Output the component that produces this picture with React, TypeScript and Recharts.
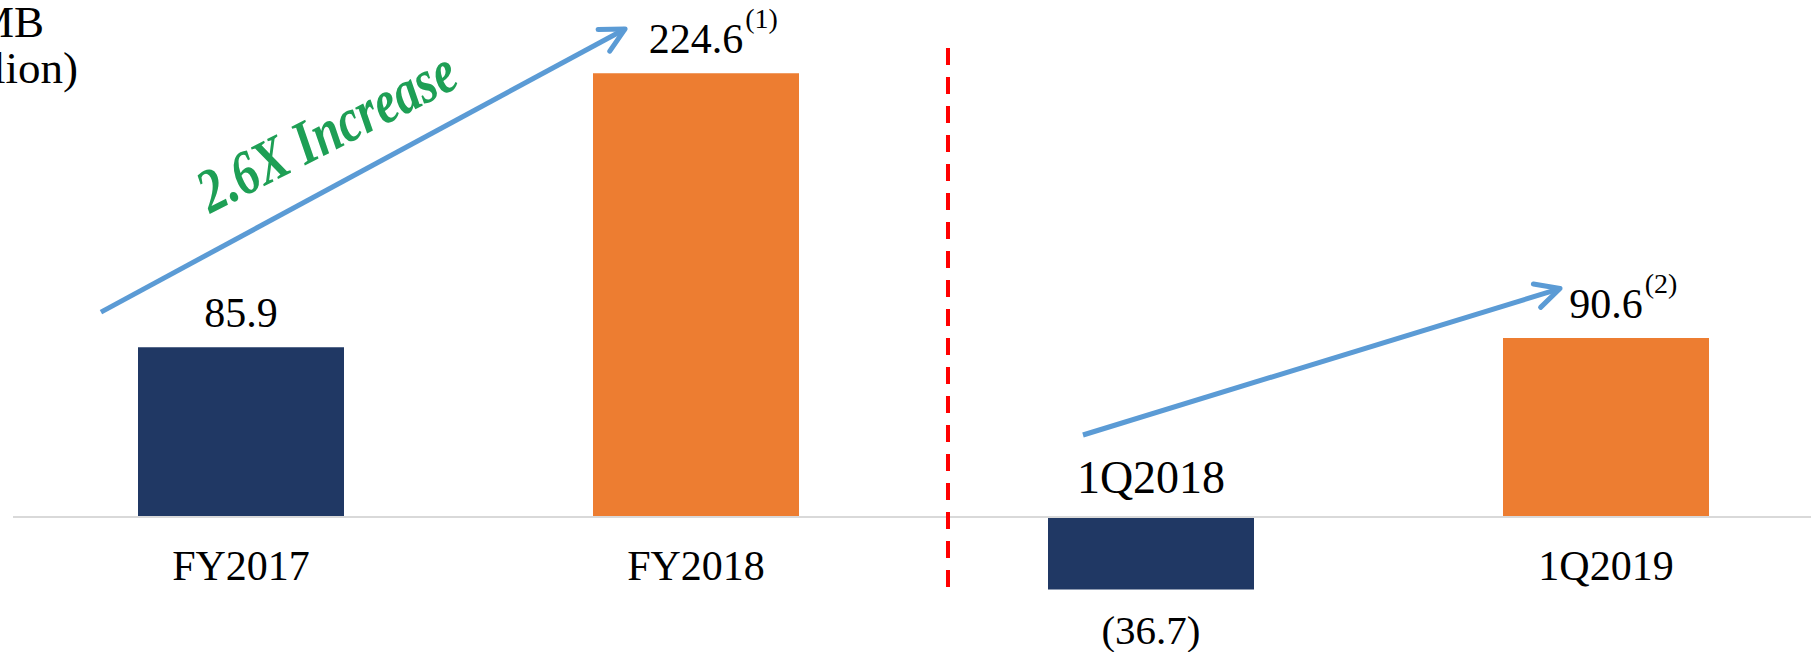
import React from 'react';
import { BarChart, Bar, XAxis, YAxis, Cell, LabelList, ReferenceLine, ReferenceDot } from 'recharts';

// ---- data ----
const categories = ['FY2017', 'FY2018', '1Q2018', '1Q2019'];
const values = [85.9, 224.6, -36.7, 90.6];
const footnotes = ['', '(1)', '', '(2)'];

// annotation anchors in data units (x: helper axis 0..3 across the plot, y: RMB million)
const growthArrowFY = [{ x: 0.145, y: 103.7 }, { x: 1.009, y: 247.0 }];
const growthArrowQ = [{ x: 1.7637, y: 41.5 }, { x: 2.55, y: 115.6 }];
const dividerLine = [{ x: 1.5412, y: 237.3 }, { x: 1.5412, y: -35.4 }];
const increaseNote = { x: 0.325, y: 153.5, text: '2.6X Increase' };
const unitLines = ['RMB', '(in million)'];

// ---- styles ----
const FONT = "'Liberation Serif', 'Times New Roman', Times, serif";
const barColors = ['#203864', '#ED7D31', '#203864', '#ED7D31'];
const ARROW = '#5B9BD5';

const data = categories.map((name, i) => ({ name, value: values[i] }));

const charW = (s: string) => {
  let w = 0;
  for (const c of s) w += c === '.' ? 0.25 : c === '(' || c === ')' ? 0.333 : 0.5;
  return w;
};

const getBox = (props: any) => {
  const vb = props.viewBox ?? {};
  const x = Number(vb.x ?? props.x);
  const y = Number(vb.y ?? props.y);
  const w = Number(vb.width ?? props.width);
  const h = Number(vb.height ?? props.height);
  return { cx: x + w / 2, top: Math.min(y, y + h), bottom: Math.max(y, y + h) };
};

const renderValueLabel = (props: any) => {
  const v = Number(props.value);
  const i = values.indexOf(v);
  const { cx, top, bottom } = getBox(props);
  if (v < 0) {
    return (
      <text x={cx} y={bottom + 54} textAnchor="middle" fontFamily={FONT} fontSize={41} fill="#000">
        {`(${Math.abs(v).toFixed(1)})`}
      </text>
    );
  }
  const main = v.toFixed(1);
  const fs = 42;
  const half = (charW(main) * fs) / 2;
  const by = top - 20;
  return (
    <g>
      <text x={cx} y={by} textAnchor="middle" fontFamily={FONT} fontSize={fs} fill="#000">
        {main}
      </text>
      {footnotes[i] ? (
        <text x={cx + half + 2} y={by - 25} fontFamily={FONT} fontSize={28} fill="#000">
          {footnotes[i]}
        </text>
      ) : null}
    </g>
  );
};

const renderCategoryLabel = (props: any) => {
  const name = String(props.value);
  const i = categories.indexOf(name);
  const v = values[i];
  const { cx, top, bottom } = getBox(props);
  if (v < 0) {
    return (
      <text x={cx} y={top - 24} textAnchor="middle" fontFamily={FONT} fontSize={46} fill="#000">
        {name}
      </text>
    );
  }
  return (
    <text x={cx} y={bottom + 63} textAnchor="middle" fontFamily={FONT} fontSize={42} fill="#000">
      {name}
    </text>
  );
};

const renderArrow = (props: any) => {
  const { x1, y1, x2, y2 } = props;
  const th = Math.atan2(y2 - y1, x2 - x1);
  const back = th + Math.PI;
  const a = (27 * Math.PI) / 180;
  const L = 27;
  const ax1 = x2 + L * Math.cos(back + a);
  const ay1 = y2 + L * Math.sin(back + a);
  const ax2 = x2 + L * Math.cos(back - a);
  const ay2 = y2 + L * Math.sin(back - a);
  return (
    <g>
      <path d={`M${x1},${y1}L${x2},${y2}`} stroke={ARROW} strokeWidth={5} fill="none" />
      <path
        d={`M${ax1},${ay1}L${x2},${y2}L${ax2},${ay2}`}
        stroke={ARROW}
        strokeWidth={5}
        fill="none"
        strokeLinecap="round"
        strokeLinejoin="round"
      />
    </g>
  );
};

const renderDivider = (props: any) => {
  const { x1, y1, x2, y2 } = props;
  return <path d={`M${x1},${y1}L${x2},${y2}`} stroke="#FF0000" strokeWidth={4} strokeDasharray="17 12" fill="none" />;
};

const renderNote = (props: any) => {
  const { cx, cy } = props;
  return (
    <text
      x={cx}
      y={cy}
      transform={`rotate(-27 ${cx} ${cy})`}
      fill="#1E9F55"
      fontFamily={FONT}
      fontSize={62}
      fontWeight="bold"
      fontStyle="italic"
      textLength={282}
      lengthAdjust="spacingAndGlyphs"
    >
      {increaseNote.text}
    </text>
  );
};

export default function App() {
  return (
    <div
      style={{
        position: 'fixed',
        left: 0,
        top: 0,
        width: 1811,
        height: 652,
        overflow: 'hidden',
        background: '#fff',
      }}
    >
      <BarChart
        width={1833}
        height={652}
        data={data}
        margin={{ top: 23, right: 0, bottom: 36.2, left: 13 }}
      >
        <XAxis dataKey="name" hide />
        <XAxis xAxisId="n" type="number" domain={[0, 3]} hide allowDataOverflow />
        <YAxis type="number" domain={[-50, 250]} hide allowDataOverflow />
        <ReferenceLine y={0} stroke="#D9D9D9" strokeWidth={2} />
        <Bar dataKey="value" barSize={206} isAnimationActive={false}>
          {data.map((d, i) => (
            <Cell key={d.name} fill={barColors[i]} />
          ))}
          <LabelList dataKey="value" content={renderValueLabel} />
          <LabelList dataKey="name" content={renderCategoryLabel} />
        </Bar>
        <ReferenceLine xAxisId="n" segment={dividerLine} shape={renderDivider} ifOverflow="visible" />
        <ReferenceLine xAxisId="n" segment={growthArrowFY} shape={renderArrow} ifOverflow="visible" />
        <ReferenceLine xAxisId="n" segment={growthArrowQ} shape={renderArrow} ifOverflow="visible" />
        <ReferenceDot xAxisId="n" x={increaseNote.x} y={increaseNote.y} r={0} shape={renderNote} ifOverflow="visible" />
      </BarChart>
      <svg width={1811} height={652} style={{ position: 'absolute', left: 0, top: 0, pointerEvents: 'none' }}>
        <text x={44} y={37} textAnchor="end" fontFamily={FONT} fontSize={45} fill="#000">
          {unitLines[0]}
        </text>
        <text x={78} y={83} textAnchor="end" fontFamily={FONT} fontSize={45} fill="#000">
          {unitLines[1]}
        </text>
      </svg>
    </div>
  );
}
